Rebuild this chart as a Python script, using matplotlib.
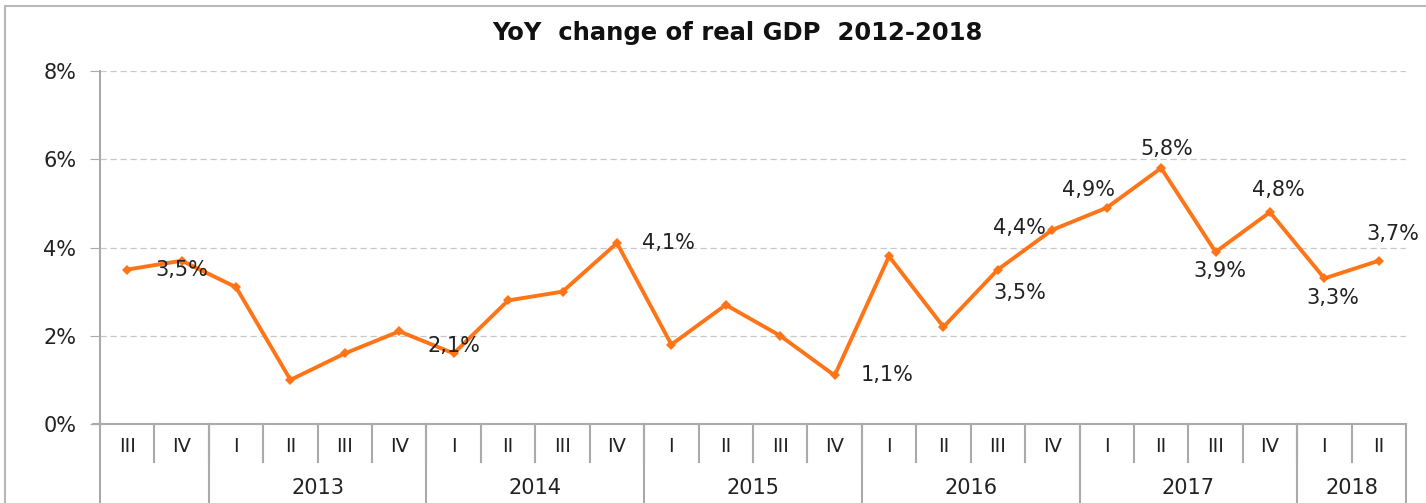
import matplotlib.pyplot as plt
from matplotlib.patches import Rectangle
import matplotlib.transforms as mtransforms

plt.rcParams['font.family'] = ['DejaVu Sans']

# quarters 2012 III .. 2018 II
quarters = ['III', 'IV', 'I', 'II', 'III', 'IV', 'I', 'II', 'III', 'IV', 'I', 'II',
            'III', 'IV', 'I', 'II', 'III', 'IV', 'I', 'II', 'III', 'IV', 'I', 'II']
years = ['', '2013', '2014', '2015', '2016', '2017', '2018']
year_sizes = [2, 4, 4, 4, 4, 4, 2]
gdp = [3.5, 3.7, 3.1, 1.0, 1.6, 2.1, 1.6, 2.8, 3.0, 4.1, 1.8, 2.7,
       2.0, 1.1, 3.8, 2.2, 3.5, 4.4, 4.9, 5.8, 3.9, 4.8, 3.3, 3.7]
label_idx = [1, 6, 9, 13, 16, 17, 18, 19, 20, 21, 22, 23]
label_txt = ['3,5%', '2,1%', '4,1%', '1,1%', '3,5%', '4,4%', '4,9%', '5,8%',
             '3,9%', '4,8%', '3,3%', '3,7%']
# offsets in points for each label (dx, dy)
label_off = [(0, -7), (0, 5), (37, 0), (38, 0), (16, -17), (-24, 1),
             (-13, 13), (4, 14), (3, -14), (6, 16), (6, -14), (10, 19)]

fig = plt.figure(figsize=(14.26, 5.03), dpi=100)
fig.patches.append(Rectangle((5 / 1426, -0.1), 1.2, 1 - 6 / 503 + 0.1,
                             transform=fig.transFigure, fill=False,
                             edgecolor='#b8b8b8', linewidth=1.5))
ax = fig.add_axes([100 / 1426, (503 - 424) / 503, 1306 / 1426, 353 / 503])

x = list(range(len(gdp)))
ax.plot(x, gdp, color='#ff7417', linewidth=2.8, marker='D', markersize=5,
        markeredgewidth=0, zorder=3)
for i, t, (dx, dy) in zip(label_idx, label_txt, label_off):
    ax.annotate(t, (i, gdp[i]), xytext=(dx, dy), textcoords='offset points',
                ha='center', va='center', fontsize=15, color='#222222', zorder=4)

ax.set_xlim(-0.5, len(gdp) - 0.5)
ax.set_ylim(0, 8)
ax.set_yticks([0, 2, 4, 6, 8])
ax.set_yticklabels(['0%', '2%', '4%', '6%', '8%'], fontsize=15, color='#222222')
ax.yaxis.grid(True, linestyle=(0, (5, 3)), color='#c8c8c8', linewidth=0.9)
ax.tick_params(axis='y', length=7, color='#aaaaaa', pad=10)
ax.set_xticks([])
for s in ['top', 'right']:
    ax.spines[s].set_visible(False)
ax.spines['left'].set_color('#aaaaaa')
ax.spines['left'].set_linewidth(1.5)
ax.spines['bottom'].set_color('#aaaaaa')
ax.spines['bottom'].set_linewidth(1.5)

# category axis drawn below the plot
tr = mtransforms.blended_transform_factory(ax.transData, ax.transAxes)
q_bot = -38 / 353
y_bot = -90 / 353
kw = dict(transform=tr, clip_on=False, color='#aaaaaa', linewidth=1.5)
ax.plot([-0.5 - 0.13, -0.5], [0, 0], **kw)
ax.plot([-0.5, -0.5], [y_bot, 0], **kw)
for i, q in enumerate(quarters):
    ax.text(i, -22 / 353, q, transform=tr, ha='center', va='center',
            fontsize=14, color='#222222')
    if i > 0:
        ax.plot([i - 0.5, i - 0.5], [q_bot, 0], **kw)
pos = -0.5
for y, n in zip(years, year_sizes):
    ax.text(pos + n / 2, -64 / 353, y, transform=tr, ha='center', va='center',
            fontsize=15, color='#222222')
    pos += n
    ax.plot([pos, pos], [y_bot, 0], **kw)

fig.text(737 / 1426, 1 - 33 / 503, 'YoY  change of real GDP  2012-2018',
         ha='center', va='center', fontsize=17.5, fontweight='bold', color='#111111')

fig.savefig('out.png', dpi=100)
